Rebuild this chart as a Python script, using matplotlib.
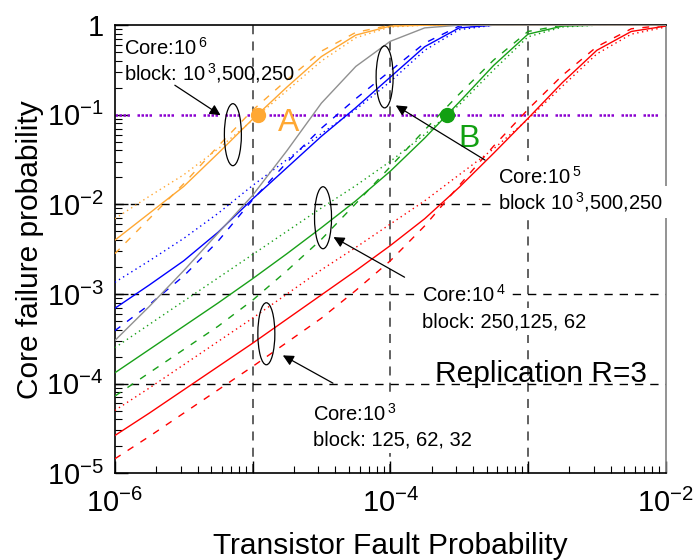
import numpy as np
import matplotlib.pyplot as plt
from matplotlib.patches import Ellipse
from matplotlib.transforms import ScaledTranslation
from matplotlib.ticker import LogLocator, FuncFormatter, NullFormatter

plt.rcParams['font.family'] = ['Liberation Sans', 'DejaVu Sans']
plt.rcParams['mathtext.fontset'] = 'custom'
plt.rcParams['mathtext.rm'] = 'Liberation Sans'

# transistor fault probability, log10
log_p = [-6.0, -5.75, -5.5, -5.25, -5.0, -4.75, -4.5, -4.25, -4.0,
         -3.75, -3.5, -3.25, -3.0, -2.75, -2.5, -2.25, -2.0]

# core failure probability, log10 (dotted / solid / dashed = three block sizes)
core1e3_dot = [-4.30, -4.05, -3.79, -3.53, -3.27, -3.00, -2.73, -2.48, -2.22,
               -1.96, -1.67, -1.38, -1.05, -0.68, -0.32, -0.10, -0.02]
core1e3_sol = [-4.58, -4.33, -4.07, -3.81, -3.55, -3.28, -3.01, -2.74, -2.46,
               -2.16, -1.81, -1.43, -1.04, -0.64, -0.28, -0.07, -0.01]
core1e3_das = [-4.84, -4.59, -4.33, -4.07, -3.81, -3.54, -3.27, -2.96, -2.63,
               -2.24, -1.79, -1.35, -0.94, -0.56, -0.24, -0.04, 0.0]

core1e4_dot = [-3.60, -3.34, -3.08, -2.82, -2.56, -2.30, -2.04, -1.79, -1.52,
               -1.22, -0.89, -0.50, -0.13, -0.02, 0.0, 0.0, 0.0]
core1e4_sol = [-3.88, -3.62, -3.36, -3.10, -2.83, -2.55, -2.26, -1.96, -1.63,
               -1.26, -0.86, -0.45, -0.10, -0.01, 0.0, 0.0, 0.0]
core1e4_das = [-4.14, -3.88, -3.62, -3.36, -3.07, -2.74, -2.39, -1.99, -1.58,
               -1.17, -0.77, -0.39, -0.07, 0.0, 0.0, 0.0, 0.0]

core1e5_dot = [-2.87, -2.63, -2.38, -2.10, -1.79, -1.50, -1.21, -0.94, -0.63,
               -0.28, -0.05, 0.0, 0.0, 0.0, 0.0, 0.0, 0.0]
core1e5_sol = [-3.16, -2.90, -2.63, -2.31, -1.94, -1.59, -1.24, -0.92, -0.58,
               -0.24, -0.03, 0.0, 0.0, 0.0, 0.0, 0.0, 0.0]
core1e5_das = [-3.41, -3.12, -2.80, -2.41, -1.95, -1.53, -1.15, -0.82, -0.51,
               -0.20, -0.01, 0.0, 0.0, 0.0, 0.0, 0.0, 0.0]

core1e6_dot = [-2.16, -1.91, -1.67, -1.38, -1.06, -0.73, -0.40, -0.14, -0.02,
               0.0, 0.0, 0.0, 0.0, 0.0, 0.0, 0.0, 0.0]
core1e6_sol = [-2.40, -2.10, -1.80, -1.43, -1.05, -0.69, -0.35, -0.11, -0.01,
               0.0, 0.0, 0.0, 0.0, 0.0, 0.0, 0.0, 0.0]
core1e6_das = [-2.55, -2.16, -1.77, -1.35, -0.95, -0.61, -0.29, -0.08, 0.0,
               0.0, 0.0, 0.0, 0.0, 0.0, 0.0, 0.0, 0.0]

gray_ref = [-3.52, -3.14, -2.74, -2.32, -1.90, -1.40, -0.87, -0.46, -0.18,
            -0.03, 0.0, 0.0, 0.0, 0.0, 0.0, 0.0, 0.0]

threshold = 0.1
point_labels = ['A', 'B']
point_p = [1.1e-5, 2.6e-4]
point_fail = [0.1, 0.1]
point_colors = ['#FFA833', '#12A012']

ORANGE = '#FFA833'
GREEN = '#18A018'
BLUE = '#0000FF'
RED = '#FF0000'

fig = plt.figure(figsize=(7, 5.6), dpi=100)
ax = fig.add_axes([0.164, 0.155, 0.787, 0.80])
ax.set_xscale('log')
ax.set_yscale('log')
ax.set_xlim(1e-6, 1e-2)
ax.set_ylim(1e-5, 1)

x = 10.0 ** np.array(log_p)

# dashed reference grid
for v in [1e-5, 1e-4, 1e-3]:
    ax.axvline(v, color='#555555', lw=1.3, ls=(0, (5, 4)), zorder=1)
for v in [1e-2, 1e-3, 1e-4]:
    ax.axhline(v, color='black', lw=1.0, ls=(0, (6, 5)), zorder=1)
ax.axhline(threshold, color='#8A00D0', lw=1.8, ls=(0, (1, 0.6, 1, 0.6, 1, 0.6, 1, 3)), zorder=2)

groups = [
    (RED, core1e3_dot, core1e3_sol, core1e3_das),
    (GREEN, core1e4_dot, core1e4_sol, core1e4_das),
    (BLUE, core1e5_dot, core1e5_sol, core1e5_das),
    (ORANGE, core1e6_dot, core1e6_sol, core1e6_das),
]
for color, dot, sol, das in groups:
    ax.plot(x, 10.0 ** np.array(dot), color=color, lw=1.0, ls=(0, (1, 2.5)), zorder=3)
    ax.plot(x, 10.0 ** np.array(sol), color=color, lw=1.0, zorder=3)
    ax.plot(x, 10.0 ** np.array(das), color=color, lw=1.0, ls=(0, (5, 6)), zorder=3)
ax.plot(x, 10.0 ** np.array(gray_ref), color='#909090', lw=1.0, zorder=3)

# operating points at the 0.1 threshold
for lab, px, py, c in zip(point_labels, point_p, point_fail, point_colors):
    ax.plot(px, py, 'o', color=c, ms=10, zorder=5)
off = {'A': (14, -12), 'B': (8, -23)}
for lab, px, py, c in zip(point_labels, point_p, point_fail, point_colors):
    ax.annotate(lab, (px, py), xytext=off[lab], textcoords='offset points',
                fontsize=23, color=c, va='baseline', ha='left', zorder=6)

# ellipses marking each group of curves (size in inches)
ell_centers = [(7.2e-6, 0.060), (9.1e-5, 0.265), (3.25e-5, 0.0071), (1.26e-5, 3.6e-4)]
for cx, cy in ell_centers:
    tr = fig.dpi_scale_trans + ScaledTranslation(cx, cy, ax.transData)
    ax.add_patch(Ellipse((0, 0), 0.17, 0.62, transform=tr, fill=False,
                         ec='black', lw=0.9, zorder=6))

# group labels with arrows
box = dict(facecolor='white', edgecolor='none', pad=3)
ts = 14.5
sup = r'$\mathregular{10^{\,%s}}$'
ax.text(0.016, 0.935, 'Core:' + sup % '6', transform=ax.transAxes, fontsize=ts, va='baseline', zorder=7)
ax.text(0.016, 0.877, 'block: ' + sup % '3' + ',500,250', transform=ax.transAxes, fontsize=ts, va='baseline', zorder=7)

ax.text(0.695, 0.647, 'Core:' + sup % '5', transform=ax.transAxes, fontsize=ts, va='baseline', bbox=box, zorder=7)
ax.text(0.695, 0.589, 'block ' + sup % '3' + ',500,250', transform=ax.transAxes, fontsize=ts, va='baseline', bbox=box, zorder=7)

ax.text(0.557, 0.382, 'Core:' + sup % '4', transform=ax.transAxes, fontsize=ts, va='baseline', bbox=box, zorder=7)
ax.text(0.557, 0.326, 'block: 250,125, 62', transform=ax.transAxes, fontsize=ts, va='baseline', bbox=box, zorder=7)

ax.text(0.359, 0.118, 'Core:' + sup % '3', transform=ax.transAxes, fontsize=ts, va='baseline', bbox=box, zorder=7)
ax.text(0.359, 0.0625, 'block: 125, 62, 32', transform=ax.transAxes, fontsize=ts, va='baseline', bbox=box, zorder=7)

ax.text(0.581, 0.203, 'Replication R=3', transform=ax.transAxes, fontsize=21.5, va='baseline', zorder=7)

arrows = [((0.109, 0.866), (0.192, 0.799)),
          ((0.672, 0.699), (0.510, 0.821)),
          ((0.526, 0.4375), (0.397, 0.527)),
          ((0.396, 0.201), (0.305, 0.263))]
for tail, tip in arrows:
    ax.annotate('', xy=tip, xytext=tail, xycoords='axes fraction', textcoords='axes fraction',
                arrowprops=dict(arrowstyle='-|>', mutation_scale=16, color='black', lw=0.9,
                                shrinkA=0, shrinkB=0), zorder=8)

# axes styling
ax.xaxis.set_major_locator(LogLocator(base=10, numticks=10))
ax.yaxis.set_major_locator(LogLocator(base=10, numticks=10))
ax.xaxis.set_minor_locator(LogLocator(base=10, subs=np.arange(2, 10), numticks=20))
ax.yaxis.set_minor_locator(LogLocator(base=10, subs=np.arange(2, 10), numticks=20))


def xfmt(v, pos):
    e = int(round(np.log10(v)))
    if e % 2:
        return ''
    return r'$\mathregular{10^{%d}}$' % e


def yfmt(v, pos):
    e = int(round(np.log10(v)))
    if e == 0:
        return '1'
    return r'$\mathregular{10^{%d}}$' % e


ax.xaxis.set_major_formatter(FuncFormatter(xfmt))
ax.yaxis.set_major_formatter(FuncFormatter(yfmt))
ax.xaxis.set_minor_formatter(NullFormatter())
ax.yaxis.set_minor_formatter(NullFormatter())
ax.tick_params(which='both', direction='in', top=False, right=False, labelsize=21)
ax.tick_params(which='major', length=9, width=1.0)
ax.tick_params(which='minor', length=5, width=0.8)
ax.tick_params(axis='x', pad=11)
ax.tick_params(axis='y', pad=8)
for s in ax.spines.values():
    s.set_linewidth(1.2)
ax.spines['right'].set_color('#808080')

ax.set_xlabel('Transistor Fault Probability', fontsize=21.5, labelpad=10)
ax.set_ylabel('Core failure probability', fontsize=21.5, labelpad=2)

fig.savefig('out.png', dpi=100)
